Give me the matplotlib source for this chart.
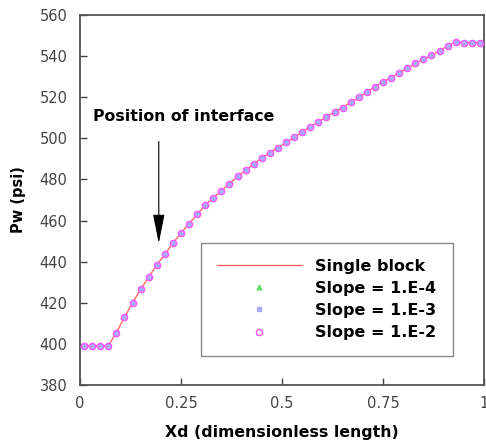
import numpy as np
import matplotlib
matplotlib.use("Agg")
import matplotlib.pyplot as plt

# dimensionless position of the grid block centres
xd = np.arange(0.01, 1.0, 0.02)

# wellbore pressure (psi)
pw = [399, 399, 399, 399, 405.5, 413, 420, 426.5, 432.5, 438.5,
      443.5, 449, 454, 458.5, 463, 467.5, 471, 474.5, 478, 481.5,
      484.5, 487.5, 490.5, 493, 495.5, 498, 500.5, 503, 505.5, 508,
      510.5, 513, 515, 517.5, 520, 522.5, 525, 527.5, 529.5, 532,
      534, 536.5, 538.5, 540.5, 542.5, 545, 547, 546.5, 546.5, 546.5]

series_names = ["Single block", "Slope = 1.E-4", "Slope = 1.E-3", "Slope = 1.E-2"]
x_ticks = [0, 0.25, 0.5, 0.75, 1]
x_tick_labels = ["0", "0.25", "0.5", "0.75", "1"]
y_ticks = list(range(380, 561, 20))

plt.rcParams["font.family"] = ["DejaVu Sans"]

fig = plt.figure(figsize=(4.86, 4.47), dpi=100)
ax = fig.add_axes([0.1646, 0.1387, 0.8313, 0.8277])

ax.plot(xd, pw, color="#ff6666", lw=1, label=series_names[0], zorder=2)
ax.plot(xd, pw, ls="none", marker="^", ms=3.5, color="#66dd66", mec="#66dd66",
        label=series_names[1], zorder=3)
ax.plot(xd, pw, ls="none", marker="s", ms=3.2, color="#aaaaff", mec="#aaaaff",
        label=series_names[2], zorder=4)
ax.plot(xd, pw, ls="none", marker="o", ms=4.5, mfc="none", mec="#ff55ff", mew=1,
        label=series_names[3], zorder=5)

ax.set_xlim(0, 1)
ax.set_ylim(380, 560)
ax.set_xticks(x_ticks)
ax.set_xticklabels(x_tick_labels)
ax.set_yticks(y_ticks)
ax.tick_params(direction="in", length=5, width=1, labelsize=10.5, colors="#444444")
ax.tick_params(axis="x", pad=8)
ax.tick_params(axis="y", pad=9)

for s in ax.spines.values():
    s.set_color("#555555")
    s.set_linewidth(1.3)

ax.set_xlabel("Xd (dimensionless length)", fontsize=11.3, fontweight="bold", labelpad=10)
ax.set_ylabel("Pw (psi)", fontsize=10.5, fontweight="bold", labelpad=10)

ax.annotate("", xy=(0.195, 449), xytext=(0.195, 498.5),
            arrowprops=dict(arrowstyle="-|>,head_length=1.0,head_width=0.2",
                            color="black", lw=0.8,
                            mutation_scale=18, shrinkA=0, shrinkB=0))
ax.text(0.032, 510.5, "Position of interface", fontsize=11.3, fontweight="bold",
        ha="left", va="center")

leg = ax.legend(loc="lower left", bbox_to_anchor=(0.30, 0.078, 0.623, 0.327),
                mode="expand", handlelength=5.3, handletextpad=0.8, numpoints=1,
                fancybox=False, edgecolor="#888888", framealpha=1, borderpad=1.0,
                labelspacing=0.45, borderaxespad=0,
                prop=dict(size=11.5, weight="bold"))
leg.get_frame().set_linewidth(1.0)

fig.savefig("out.png", dpi=100)
